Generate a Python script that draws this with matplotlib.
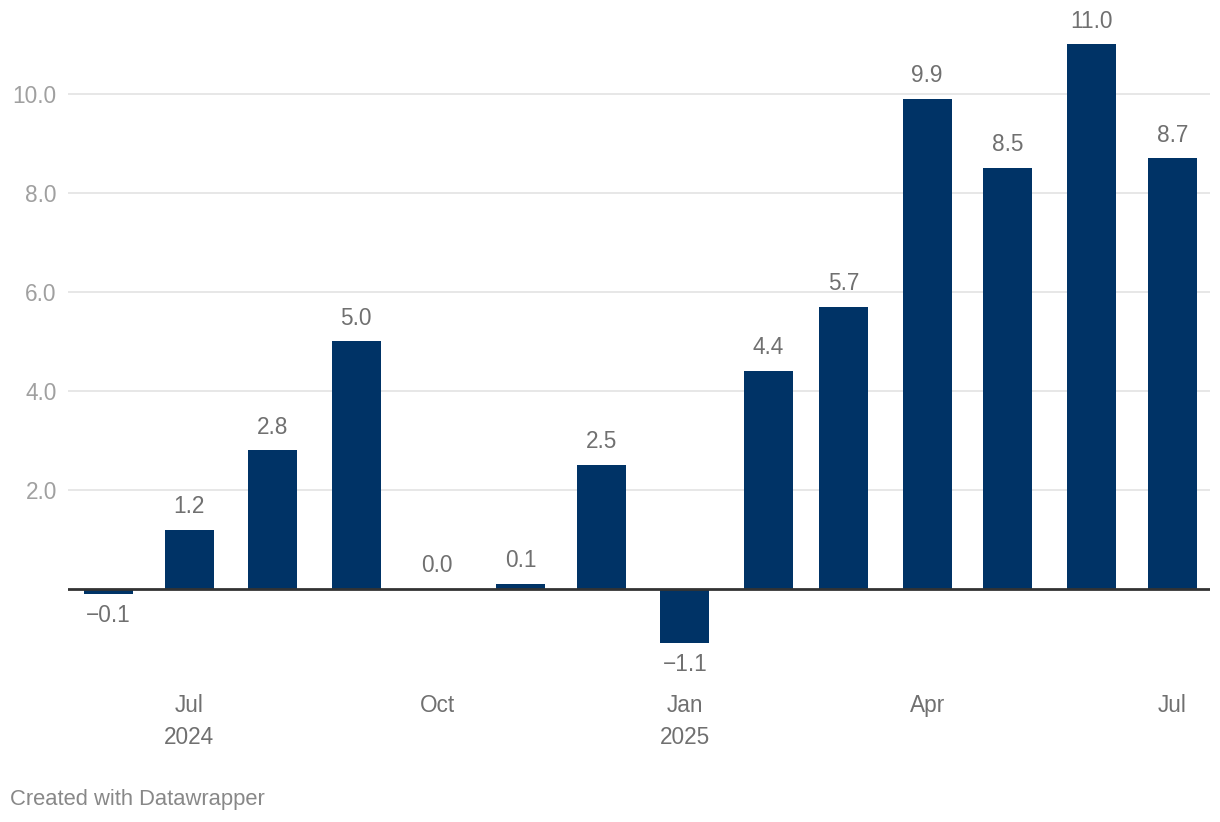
import numpy as np
import pandas as pd
import matplotlib
matplotlib.use('Agg')
import matplotlib.pyplot as plt
import matplotlib.dates as mdates

# monthly values, Jun 2024 - Jul 2025
months = ['2024-06', '2024-07', '2024-08', '2024-09', '2024-10', '2024-11', '2024-12',
          '2025-01', '2025-02', '2025-03', '2025-04', '2025-05', '2025-06', '2025-07']
values = [-0.1, 1.2, 2.8, 5.0, 0.0, 0.1, 2.5, -1.1, 4.4, 5.7, 9.9, 8.5, 11.0, 8.7]

tick_dates = ['2024-07', '2024-10', '2025-01', '2025-04', '2025-07']
tick_labels = ['Jul\n2024', 'Oct', 'Jan\n2025', 'Apr', 'Jul']
y_ticks = [2, 4, 6, 8, 10]

plt.rcParams['font.family'] = ['Liberation Sans', 'DejaVu Sans']

bar_color = '#003366'
fs = 16.3
dates = pd.to_datetime(months)

fig = plt.figure(figsize=(12.2, 8.22), dpi=100, facecolor='white')
ax = fig.add_axes([0.0557, 0.2112, 0.9361, 0.7648])

ax.bar(dates, values, width=18.2, color=bar_color, zorder=3)

for d, v in zip(dates, values):
    if v < 0:
        txt = '\u2212' + f'{abs(v):.1f}'
        ax.annotate(txt, (d, v), xytext=(0, -7), textcoords='offset points',
                    ha='center', va='top', fontsize=fs, color='#707070')
    else:
        ax.annotate(f'{v:.1f}', (d, v), xytext=(0, 8.5), textcoords='offset points',
                    ha='center', va='bottom', fontsize=fs, color='#707070')

ax.set_xlim(pd.Timestamp('2024-05-17'), pd.Timestamp('2025-07-15'))
ax.set_ylim(-1.2, 11.5)

ax.set_yticks(y_ticks)
ax.set_yticklabels([f'{t:.1f}' for t in y_ticks])
ax.grid(axis='y', color='#e3e3e3', linewidth=1.2, zorder=0)
ax.axhline(0, color='#333333', linewidth=2, zorder=4)

ax.set_xticks(pd.to_datetime(tick_dates))
ax.set_xticklabels(tick_labels, linespacing=1.5)

ax.tick_params(axis='y', length=0, pad=8, labelsize=fs, labelcolor='#a0a0a0')
ax.tick_params(axis='x', length=0, pad=33, labelsize=fs, labelcolor='#707070')
for s in ax.spines.values():
    s.set_visible(False)

fig.text(0.0082, 1 - 799 / 822, 'Created with Datawrapper', fontsize=15.8,
         color='#888888', va='center', ha='left')

fig.savefig('out.png', dpi=100, facecolor='white')
